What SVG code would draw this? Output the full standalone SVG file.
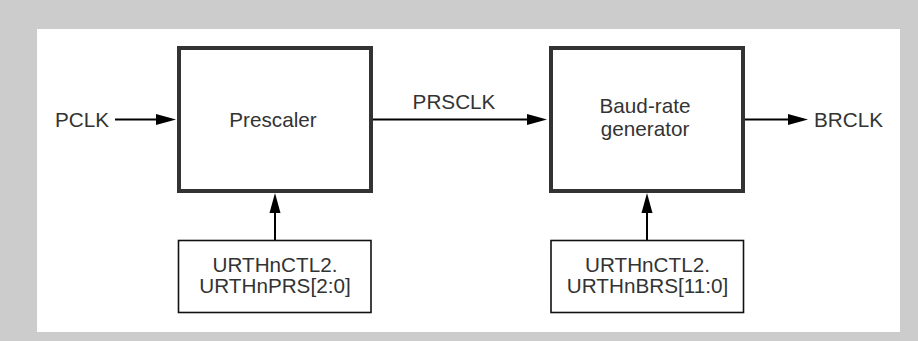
<svg xmlns="http://www.w3.org/2000/svg" width="918" height="341" viewBox="0 0 918 341">
<style>
.t{font-family:"Liberation Sans",Arial,sans-serif;font-size:20.7px;fill:#333;text-anchor:middle}
.big{fill:#fff;stroke:#333;stroke-width:4}
.small{fill:#fff;stroke:#111;stroke-width:1.6}
.ln{stroke:#000;stroke-width:2;fill:none}
.ah{fill:#000}
</style>
<rect x="0" y="0" width="918" height="341" fill="#cccccc"/>
<rect x="37" y="29" width="863" height="303" fill="#fff"/>
<g id="prescaler">
<rect class="big" x="179" y="48" width="192" height="143"/>
<text class="t" x="273" y="126.7">Prescaler</text>
</g>
<g id="baud">
<rect class="big" x="551" y="48" width="192" height="143"/>
<text class="t" x="645" y="112.7">Baud-rate</text>
<text class="t" x="645" y="136">generator</text>
</g>
<g id="prs">
<rect class="small" x="178.5" y="240.5" width="192.5" height="72"/>
<text class="t" x="275" y="271.7">URTHnCTL2.</text>
<text class="t" x="275" y="292.7">URTHnPRS[2:0]</text>
</g>
<g id="brs">
<rect class="small" x="551" y="240.5" width="192.5" height="72"/>
<text class="t" x="647.5" y="271.7">URTHnCTL2.</text>
<text class="t" x="647.5" y="292.7">URTHnBRS[11:0]</text>
</g>
<g id="pclk"><text class="t" x="82" y="126.7">PCLK</text></g>
<g id="prsclk"><text class="t" x="454" y="109">PRSCLK</text></g>
<g id="brclk"><text class="t" x="848.5" y="126.7">BRCLK</text></g>
<g id="connectors">
<line class="ln" x1="115" y1="119.5" x2="157" y2="119.5"/>
<polygon class="ah" points="156,114 176,119.5 156,125"/>
<line class="ln" x1="373" y1="119.5" x2="528" y2="119.5"/>
<polygon class="ah" points="527,114 547,119.5 527,125"/>
<line class="ln" x1="745" y1="119.5" x2="789" y2="119.5"/>
<polygon class="ah" points="788,114 808,119.5 788,125"/>
<line class="ln" x1="275" y1="240" x2="275" y2="212"/>
<polygon class="ah" points="269.5,213 275,193 280.5,213"/>
<line class="ln" x1="647" y1="240" x2="647" y2="212"/>
<polygon class="ah" points="641.5,213 647,193 652.5,213"/>
</g>
</svg>
